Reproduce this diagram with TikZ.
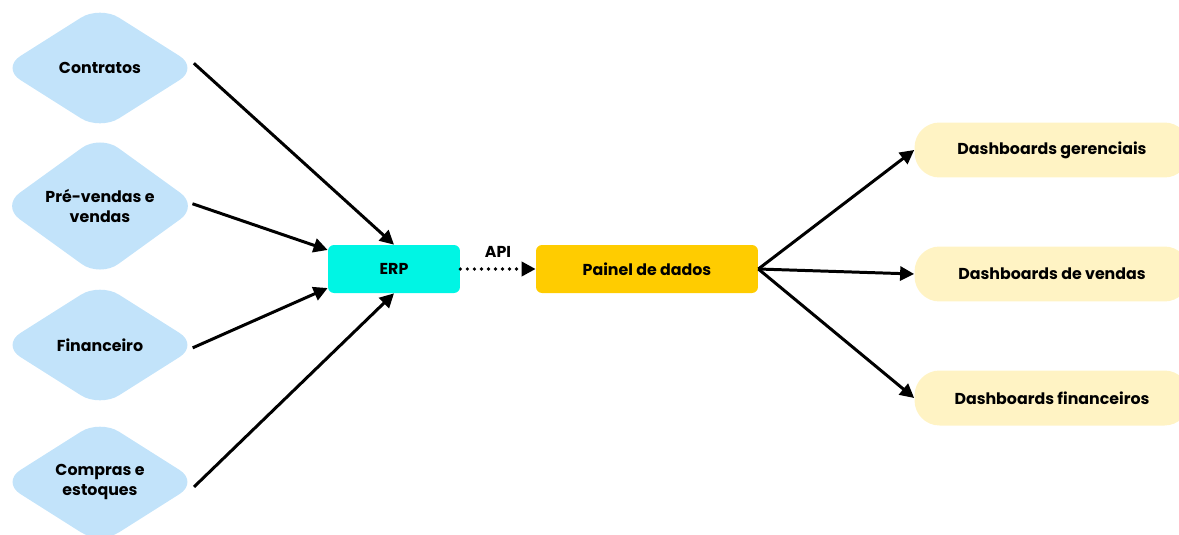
\documentclass[tikz,border=0pt]{standalone}
\usepackage{fontspec}
\setmainfont{Poppins}
\usetikzlibrary{shapes.geometric,arrows.meta}

\definecolor{fonteazul}{RGB}{194,227,250}
\definecolor{erpciano}{RGB}{0,245,228}
\definecolor{painelouro}{RGB}{255,204,0}
\definecolor{dashcreme}{RGB}{255,243,196}

\begin{document}
\begin{tikzpicture}[x=0.02cm,y=-0.02cm,
    fonte/.style={shape=diamond,fill=fonteazul,rounded corners=0.45cm,
      minimum width=3.95cm,minimum height=2.5cm,inner sep=0pt,
      align=center,font=\fontsize{9}{11.5}\selectfont\bfseries},
    caixa/.style={fill=#1,rounded corners=0.12cm,minimum height=0.96cm,
      font=\fontsize{9}{11}\selectfont\bfseries},
    painel/.style={fill=dashcreme,rounded corners=0.5cm,minimum width=5.5cm,
      minimum height=1.1cm,font=\fontsize{9}{11}\selectfont\bfseries},
    seta/.style={-{Triangle[length=8pt,width=8pt]},line width=1.7pt}]
  \useasboundingbox (0,0) rectangle (1179,534);
  %\draw[very thin,lightgray,step=50] (0,0) grid (1179,534);
  \node[fonte] (contratos) at (100,68) {Contratos};
  \node[fonte] (prevendas) at (100,206) {Pré-vendas e\\vendas};
  \node[fonte] (financeiro) at (100,345) {Financeiro};
  \node[fonte] (compras) at (100,482) {Compras e\\estoques};
  \node[caixa=erpciano,minimum width=2.64cm] (erp) at (394,269) {ERP};
  \node[caixa=painelouro,minimum width=4.44cm] (dados) at (647,269) {Painel de dados};
  \node[painel] (gerenciais) at (1052,150) {Dashboards gerenciais};
  \node[painel] (vendas) at (1052,274) {Dashboards de vendas};
  \node[painel] (financeiros) at (1052,398) {Dashboards financeiros};
  \draw[seta,shorten <=-4pt] (contratos.east) -- (erp.north);
  \draw[seta,shorten <=-4pt] (prevendas.east) -- (erp.164);
  \draw[seta,shorten <=-4pt] (financeiro.east) -- (erp.196);
  \draw[seta,shorten <=-4pt] (compras.east) -- (erp.south);
  \draw[seta,line width=2.1pt,dash pattern=on 0pt off 4pt,line cap=round] (erp.east) -- node[above=2pt,font=\fontsize{9}{11}\selectfont\bfseries] (api) {API} (dados.west);
  \draw[seta] (dados.east) -- (gerenciais.west);
  \draw[seta] (dados.east) -- (vendas.west);
  \draw[seta] (dados.east) -- (financeiros.west);
\end{tikzpicture}
\end{document}
